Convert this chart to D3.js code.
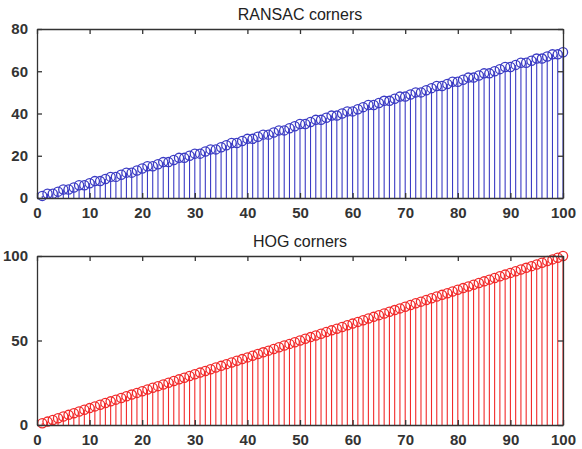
<!DOCTYPE html>
<html>
<head>
<meta charset="utf-8">
<script src="https://cdn.jsdelivr.net/npm/d3@7"></script>
<style>
  body { margin: 0; background: #fff; }
  svg { display: block; font-family: "Liberation Sans", Arial, sans-serif; }
</style>
</head>
<body>
<div id="chart"></div>
<script>
// corner counts per frame
const frames = d3.range(1, 101)
const ransacCorners = [
	1, 2, 2, 3, 4, 4, 5, 6, 6, 7,
	8, 8, 9, 10, 10, 11, 12, 12, 13, 14,
	15, 15, 16, 17, 17, 18, 19, 19, 20, 21,
	21, 22, 23, 23, 24, 25, 26, 26, 27, 28,
	28, 29, 30, 30, 31, 32, 32, 33, 34, 35,
	35, 36, 37, 37, 38, 39, 39, 40, 41, 41,
	42, 43, 44, 44, 45, 46, 46, 47, 48, 48,
	49, 50, 50, 51, 52, 53, 53, 54, 55, 55,
	56, 57, 57, 58, 59, 59, 60, 61, 62, 62,
	63, 64, 64, 65, 66, 66, 67, 68, 68, 69
]
const hogCorners = [
	1, 2, 3, 4, 5, 6, 7, 8, 9, 10,
	11, 12, 13, 14, 15, 16, 17, 18, 19, 20,
	21, 22, 23, 24, 25, 26, 27, 28, 29, 30,
	31, 32, 33, 34, 35, 36, 37, 38, 39, 40,
	41, 42, 43, 44, 45, 46, 47, 48, 49, 50,
	51, 52, 53, 54, 55, 56, 57, 58, 59, 60,
	61, 62, 63, 64, 65, 66, 67, 68, 69, 70,
	71, 72, 73, 74, 75, 76, 77, 78, 79, 80,
	81, 82, 83, 84, 85, 86, 87, 88, 89, 90,
	91, 92, 93, 94, 95, 96, 97, 98, 99, 100
]
const xTicks = [0, 10, 20, 30, 40, 50, 60, 70, 80, 90, 100]
const ransacTicks = [0, 20, 40, 60, 80]
const hogTicks = [0, 50, 100]

const W = 582, H = 449
const LEFT = 37, RIGHT = 563

const svg = d3.select("#chart").append("svg")
	.attr("width", W)
	.attr("height", H)

const x = d3.scaleLinear().domain([0, 100]).range([LEFT, RIGHT])

function stemPlot(opts) {
	const y = d3.scaleLinear().domain(opts.yDomain).range([opts.bottom, opts.top])
	const g = svg.append("g")

	// stems
	g.selectAll("line.stem")
		.data(opts.values)
		.enter().append("line")
			.attr("class", "stem")
			.attr("x1", (d, i) => x(frames[i]))
			.attr("x2", (d, i) => x(frames[i]))
			.attr("y1", y(0))
			.attr("y2", d => y(d))
			.attr("stroke", opts.color)
			.attr("stroke-width", 1.1)

	// markers
	g.selectAll("circle")
		.data(opts.values)
		.enter().append("circle")
			.attr("cx", (d, i) => x(frames[i]))
			.attr("cy", d => y(d))
			.attr("r", 4.6)
			.attr("fill", "none")
			.attr("stroke", opts.color)
			.attr("stroke-width", 1.3)

	// box with inward ticks, matlab style
	const tick = 5
	g.append("g")
		.attr("transform", `translate(0, ${opts.bottom})`)
		.call(d3.axisBottom(x).tickValues(xTicks).tickSizeInner(-tick).tickSizeOuter(0).tickPadding(9))
	g.append("g")
		.attr("transform", `translate(0, ${opts.top})`)
		.call(d3.axisTop(x).tickValues(xTicks).tickSizeInner(-tick).tickSizeOuter(0).tickFormat(""))
	g.append("g")
		.attr("transform", `translate(${LEFT}, 0)`)
		.call(d3.axisLeft(y).tickValues(opts.yTicks).tickSizeInner(-tick).tickSizeOuter(0).tickPadding(9))
	g.append("g")
		.attr("transform", `translate(${RIGHT}, 0)`)
		.call(d3.axisRight(y).tickValues(opts.yTicks).tickSizeInner(-tick).tickSizeOuter(0).tickFormat(""))

	g.selectAll(".domain, .tick line")
		.attr("stroke", "#333")
		.attr("stroke-width", 1.3)
	g.selectAll(".tick text")
		.attr("fill", "#333")
		.style("font-size", "15px")
		.style("font-weight", "bold")
		.style("font-family", "'Liberation Sans', Arial, sans-serif")

	g.append("text")
		.attr("x", (LEFT + RIGHT) / 2)
		.attr("y", opts.top - 9)
		.attr("text-anchor", "middle")
		.attr("fill", "#222")
		.style("font-size", "16px")
		.text(opts.title)
}

stemPlot({
	title: "RANSAC corners",
	values: ransacCorners,
	yDomain: [0, 80],
	yTicks: ransacTicks,
	top: 29, bottom: 198,
	color: "#3b3bc4"
})

stemPlot({
	title: "HOG corners",
	values: hogCorners,
	yDomain: [0, 100],
	yTicks: hogTicks,
	top: 256, bottom: 425,
	color: "#f22a2a"
})
</script>
</body>
</html>
